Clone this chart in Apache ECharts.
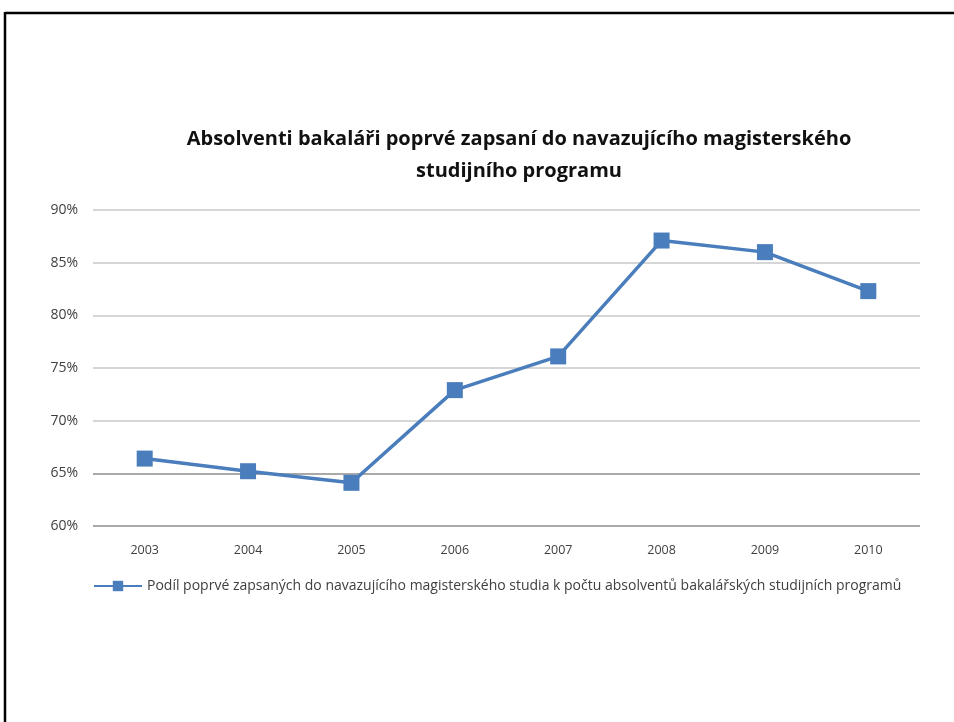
<!DOCTYPE html>
<html>
<head>
<meta charset="utf-8">
<script src="https://cdn.jsdelivr.net/npm/echarts@6/dist/echarts.min.js"></script>
<style>
  html, body { margin: 0; padding: 0; background: #fff; }
  #main { width: 954px; height: 722px; }
</style>
</head>
<body>
<div id="main"></div>
<script>
// data
var years = ["2003", "2004", "2005", "2006", "2007", "2008", "2009", "2010"];
var share = [66.4, 65.2, 64.1, 72.9, 76.1, 87.1, 86.0, 82.3];
var seriesName = "Podíl poprvé zapsaných do navazujícího magisterského studia k počtu absolventů bakalářských studijních programů";
var titleText = "Absolventi bakaláři poprvé zapsaní do navazujícího magisterského\nstudijního programu";

var myChart = echarts.init(document.getElementById("main"));
var font = "Open Sans";
var blue = "#4a7dbb";

var option = {
  animation: false,
  textStyle: { fontFamily: font },
  title: {
    text: titleText,
    left: 514,
    top: 118,
    textAlign: "center",
    textStyle: {
      fontSize: 20,
      fontWeight: "bold",
      color: "#111",
      lineHeight: 32,
      fontFamily: font,
    },
  },
  legend: {
    left: 88,
    top: 574,
    itemWidth: 48,
    itemHeight: 13,
    textStyle: { fontSize: 14, color: "#404040", fontFamily: font },
    data: [seriesName],
  },
  grid: { left: 93, right: 34, top: 210, bottom: 196, containLabel: false },
  xAxis: {
    type: "category",
    data: years,
    axisLine: { show: false },
    axisTick: { show: false },
    axisLabel: { color: "#404040", fontSize: 12.5, margin: 18 },
  },
  yAxis: {
    type: "value",
    min: 60,
    max: 90,
    interval: 5,
    axisLine: { show: false },
    axisTick: { show: false },
    axisLabel: {
      color: "#404040",
      fontSize: 14,
      margin: 15,
      formatter: "{value}%",
    },
    splitLine: {
      lineStyle: {
        color: ["#8c8c8c", "#8c8c8c", "#c8c8c8", "#c8c8c8", "#c8c8c8", "#c8c8c8", "#c8c8c8"],
        width: 1.5,
      },
    },
  },
  series: [
    {
      name: seriesName,
      type: "line",
      data: share,
      symbol: "rect",
      symbolSize: 16,
      lineStyle: { color: blue, width: 3.5 },
      itemStyle: { color: blue },
    },
  ],
  graphic: [
    { type: "line", shape: { x1: 5, y1: 13, x2: 954, y2: 13 }, style: { stroke: "#000", lineWidth: 2.5 } },
    { type: "line", shape: { x1: 5, y1: 12, x2: 5, y2: 722 }, style: { stroke: "#000", lineWidth: 2.5 } },
  ],
};

myChart.setOption(option);
window.onresize = () => {
  myChart.resize();
};
</script>
</body>
</html>
